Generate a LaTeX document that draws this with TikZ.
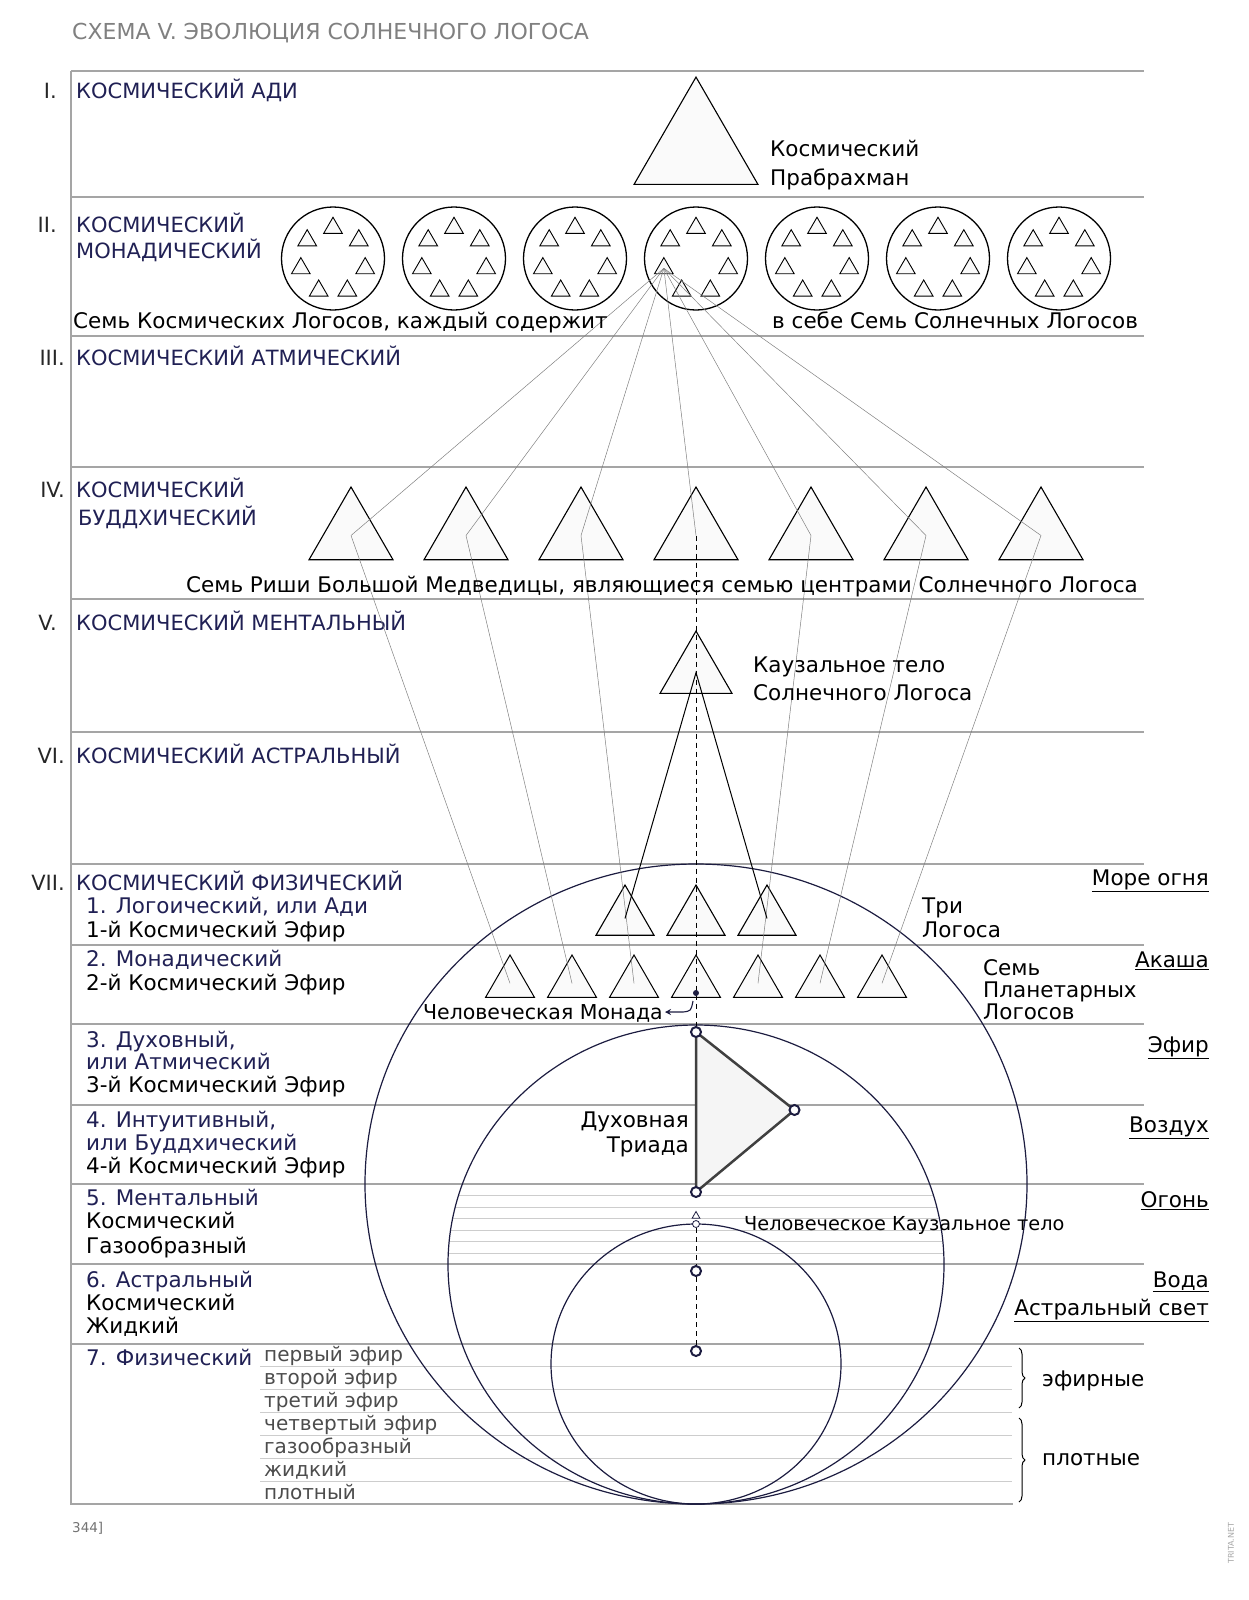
\documentclass[tikz,border=0pt]{standalone}
\usepackage{fontspec}
\setmainfont{DejaVu Sans}
\usetikzlibrary{shapes.geometric,decorations.pathreplacing,arrows.meta}

\definecolor{navy}{RGB}{32,32,84}
\definecolor{ink}{RGB}{28,28,64}
\definecolor{rulegray}{RGB}{165,165,165}
\definecolor{subgray}{RGB}{205,205,205}

\begin{document}
\begin{tikzpicture}[x=1pt, y=-1pt,
  plane/.style={anchor=base west, inner sep=0pt, text=navy, font=\fontsize{21}{23}\selectfont},
  roman/.style={anchor=base east, inner sep=0pt, text=black!85, font=\fontsize{21}{23}\selectfont},
  txt/.style={anchor=base west, inner sep=0pt, font=\fontsize{21.5}{23}\selectfont},
  subname/.style={txt, text=navy},
  elemlabel/.style={anchor=base east, inner sep=0pt, font=\fontsize{21.5}{23}\selectfont},
  sublayer/.style={anchor=base west, inner sep=0pt, text=black!70, font=\fontsize{20}{22}\selectfont},
  tri/.style={regular polygon, regular polygon sides=3, draw, line width=1.1pt, fill=gray!4, inner sep=0pt},
  link/.style={draw=gray, line width=0.5pt},
  dashline/.style={dash pattern=on 5pt off 4pt, line width=0.8pt},
  atom/.style={circle, draw=ink, line width=2pt, fill=white, inner sep=0pt, minimum size=10pt}]

\useasboundingbox (0,0) rectangle (1249,1600);

\node[anchor=base west, inner sep=0pt, text=black!50, font=\fontsize{22}{24}\selectfont] (title) at (72,40) {СХЕМА V. ЭВОЛЮЦИЯ СОЛНЕЧНОГО ЛОГОСА};

% planes
\draw[rulegray, line width=1.1pt] (71,71) -- (71,1504) -- (1013,1504);
\foreach \y in {71,197,336,467,599,732,864,945,1024,1105,1184,1264,1344}
  \draw[rulegray, line width=1.1pt] (71,\y) -- (1144,\y);
\foreach \i in {1,...,6}
  \draw[subgray, line width=0.9pt] (260,{1344+22.86*\i}) -- (1012,{1344+22.86*\i});
\begin{scope}
  \clip (696,1264.5) ellipse [x radius=248, y radius=239.5];
  \foreach \i in {1,...,6}
    \draw[subgray, line width=0.9pt] (430,{1184+11.5*\i}) -- (960,{1184+11.5*\i});
\end{scope}

\node[roman] (n1) at (57,99) {I.};
\node[plane] (p1) at (76,99) {КОСМИЧЕСКИЙ АДИ};
\node[roman] (n2) at (57,232) {II.};
\node[plane] (p2a) at (76,232) {КОСМИЧЕСКИЙ};
\node[plane] (p2b) at (76,258) {МОНАДИЧЕСКИЙ};
\node[roman] (n3) at (65,365) {III.};
\node[plane] (p3) at (76,365) {КОСМИЧЕСКИЙ АТМИЧЕСКИЙ};
\node[roman] (n4) at (65,497) {IV.};
\node[plane] (p4a) at (76,497) {КОСМИЧЕСКИЙ};
\node[plane] (p4b) at (78,525) {БУДДХИЧЕСКИЙ};
\node[roman] (n5) at (57,630) {V.};
\node[plane] (p5) at (76,630) {КОСМИЧЕСКИЙ МЕНТАЛЬНЫЙ};
\node[roman] (n6) at (65,763) {VI.};
\node[plane] (p6) at (76,763) {КОСМИЧЕСКИЙ АСТРАЛЬНЫЙ};
\node[roman] (n7) at (65,890) {VII.};
\node[plane] (p7) at (76,890) {КОСМИЧЕСКИЙ ФИЗИЧЕСКИЙ};

% sub-planes of VII
\node[subname] (s1a) at (86,913) {1. Логоический, или Ади};
\node[txt] (s1b) at (86,937) {1-й Космический Эфир};
\node[subname] (s2a) at (86,966) {2. Монадический};
\node[txt] (s2b) at (86,990) {2-й Космический Эфир};
\node[subname] (s3a) at (86,1047) {3. Духовный,};
\node[subname] (s3b) at (86,1069) {или Атмический};
\node[txt] (s3c) at (86,1092) {3-й Космический Эфир};
\node[subname] (s4a) at (86,1127) {4. Интуитивный,};
\node[subname] (s4b) at (86,1150) {или Буддхический};
\node[txt] (s4c) at (86,1173) {4-й Космический Эфир};
\node[subname] (s5a) at (86,1205) {5. Ментальный};
\node[txt] (s5b) at (86,1228) {Космический};
\node[txt] (s5c) at (86,1253) {Газообразный};
\node[subname] (s6a) at (86,1287) {6. Астральный};
\node[txt] (s6b) at (86,1310) {Космический};
\node[txt] (s6c) at (86,1333) {Жидкий};
\node[subname] (s7) at (86,1365) {7. Физический};
\foreach \t [count=\i] in {первый эфир,второй эфир,третий эфир,четвертый эфир,газообразный,жидкий,плотный}
  \node[sublayer] (ph\i) at (264,{1339+22.86*\i}) {\t};

% elements
\node[elemlabel] (e1) at (1209,885) {\underline{Море огня}};
\node[elemlabel] (e2) at (1209,967) {\underline{Акаша}};
\node[elemlabel] (e3) at (1209,1052) {\underline{Эфир}};
\node[elemlabel] (e4) at (1209,1132) {\underline{Воздух}};
\node[elemlabel] (e5) at (1209,1207) {\underline{Огонь}};
\node[elemlabel] (e6) at (1209,1287) {\underline{Вода}};
\node[elemlabel] (e7) at (1209,1315) {\underline{Астральный свет}};

% big circles
\draw[ink, line width=1.2pt] (696,1184) ellipse [x radius=331, y radius=320];
\draw[ink, line width=1.2pt] (696,1264.5) ellipse [x radius=248, y radius=239.5];
\draw[ink, line width=1.2pt] (696,1364) ellipse [x radius=145, y radius=140];

% triangles
\node[tri, minimum size=143] (prab) at (696,148.6) {};
\foreach \k in {1,...,7} {
  \node[circle, draw, line width=1.3pt, minimum size=103, inner sep=0pt] (c\k) at ({696+121*(\k-4)},258.5) {};
  \foreach \a [count=\j] in {-90,-141.43,-38.57,167.14,12.86,115.71,64.29}
    \node[tri, line width=0.9pt, minimum size=21.5] (c\k-\j) at ({696+121*(\k-4)+33*cos(\a)},{261+33*sin(\a)}) {};
}
\foreach \k in {1,...,7}
  \node[tri, minimum size=97] (r\k) at ({696+115*(\k-4)},535.5) {};
\node[tri, minimum size=83.1] (causal) at (696,672.6) {};
\foreach \k in {1,2,3}
  \node[tri, minimum size=67] (lg\k) at ({696+71*(\k-2)},918.5) {};
\foreach \k in {1,...,7}
  \node[tri, line width=1pt, minimum size=56.6] (pl\k) at ({696+62*(\k-4)},983.3) {};

% connections
\foreach \k in {1,...,7}
  \draw[link] (c4-4.center) -- (r\k.center);
\foreach \k in {1,2,3,5,6,7}
  \draw[link] (r\k.center) -- (pl\k.center);
\draw[line width=1pt] (lg1.center) -- (causal.center) -- (lg3.center);

% spiritual triad
\coordinate (tt) at (696,1032);
\coordinate (tr) at (794.5,1110);
\coordinate (tb) at (696,1192);
\draw[dashline] (r4.center) -- (tt);
\draw[fill=gray!8, draw=black!75, line width=2.5pt, line join=round] (tt) -- (tr) -- (tb) -- cycle;
\node[atom] (ttop) at (tt) {};
\node[atom] (tright) at (tr) {};
\node[atom] (tbot) at (tb) {};
\node[circle, fill=ink, inner sep=0pt, minimum size=6] (mdot) at (696,993) {};

% human causal body
\node[atom] (pa) at (696,1271) {};
\node[atom] (pb) at (696,1351) {};
\node[circle, draw=ink, line width=0.8pt, fill=white, inner sep=0pt, minimum size=7] (cbc) at (696,1224) {};
\node[regular polygon, regular polygon sides=3, draw=ink, line width=0.8pt, fill=white, inner sep=0pt, minimum size=9] (cbt) at (696,1216) {};
\draw[dashline] (cbc) -- (pa) -- (pb);

% captions
\node[txt] (prab1) at (770,157) {Космический};
\node[txt] (prab2) at (770,185) {Прабрахман};
\node[txt] (cl1) at (73,328) {Семь Космических Логосов, каждый содержит};
\node[txt] (cl2) at (772,328) {в себе Семь Солнечных Логосов};
\node[elemlabel] (rishi) at (1138,592) {Семь Риши Большой Медведицы, являющиеся семью центрами Солнечного Логоса};
\node[txt] (caus1) at (753,672) {Каузальное тело};
\node[txt] (caus2) at (753,700) {Солнечного Логоса};
\node[txt] (three1) at (922,913) {Три};
\node[txt] (three2) at (922,937) {Логоса};
\node[txt] (plan1) at (983,975) {Семь};
\node[txt] (plan2) at (983,997) {Планетарных};
\node[txt] (plan3) at (983,1019) {Логосов};
\node[elemlabel, font=\fontsize{20.5}{22}\selectfont] (monad) at (663,1019) {Человеческая Монада};
\coordinate (mhook) at (693,1001);
\coordinate (mtip) at (665,1012);
\draw[ink, line width=1.1pt, -{Stealth[length=6pt,width=6pt]}] (mhook) .. controls (691,1011) .. (683,1012) -- (mtip);
\node[elemlabel] (triad1) at (689,1127) {Духовная};
\node[elemlabel] (triad2) at (689,1152) {Триада};
\node[txt, font=\fontsize{19.3}{21}\selectfont] (hcb) at (744,1230) {Человеческое Каузальное тело};

% ethers and dense
\draw[decorate, decoration={brace, amplitude=6pt}, line width=1pt] (1019,1348) -- (1019,1408);
\draw[decorate, decoration={brace, amplitude=6pt}, line width=1pt] (1019,1418) -- (1019,1502);
\node[txt] (eth) at (1042,1386) {эфирные};
\node[txt] (dense) at (1042,1465) {плотные};

\node[anchor=base west, inner sep=0pt, text=black!55, font=\fontsize{13.5}{15}\selectfont] (page) at (72,1532) {344]};
\node[rotate=90, text=black!35, font=\fontsize{8}{9}\selectfont] (wm) at (1231,1543) {TRITA.NET};

\end{tikzpicture}
\end{document}
